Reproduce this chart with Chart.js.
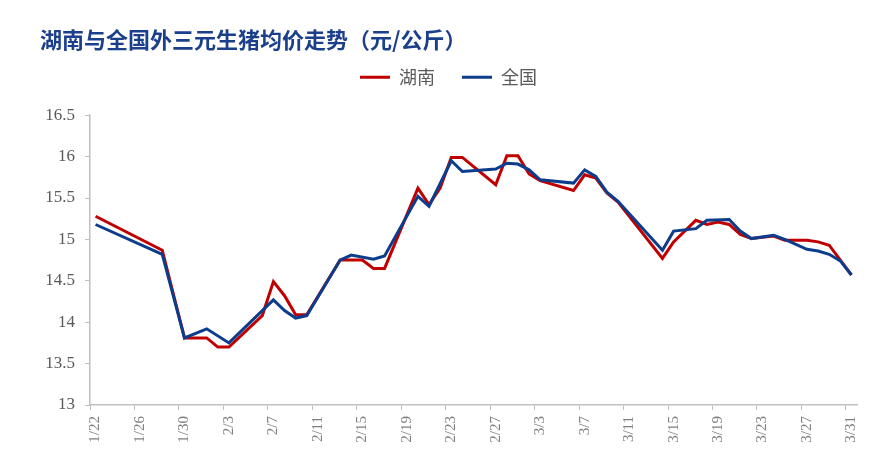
<!DOCTYPE html>
<html>
<head>
<meta charset="utf-8">
<script src="https://cdn.jsdelivr.net/npm/chart.js@4"></script>
<style>
  body { margin: 0; background: #fff; }
  #wrap { width: 886px; height: 472px; }
</style>
</head>
<body>
<div id="wrap"><canvas id="priceChart"></canvas></div>
<script>
// readings where the lines change direction (null = no visible point)
const dates = ['1/22','1/28','1/30','2/1','2/2','2/3','2/6','2/7','2/8','2/9','2/10',
  '2/13','2/14','2/15','2/16','2/17','2/20','2/21','2/22','2/23','2/24','2/27','2/28',
  '3/1','3/2','3/3','3/6','3/7','3/8','3/9','3/10','3/14','3/15','3/17','3/18','3/19',
  '3/20','3/21','3/22','3/24','3/25','3/27','3/28','3/29','3/30','3/31'];
const hunan = [15.28,14.87,13.81,13.81,13.70,13.70,14.08,14.49,14.32,14.09,14.09,
  14.75,null,14.75,14.65,14.65,15.62,15.42,15.62,15.99,15.99,15.66,16.01,
  16.01,15.79,15.71,15.59,15.78,15.74,15.56,15.45,14.77,14.97,15.23,15.18,15.21,
  15.18,15.06,15.01,15.04,14.99,14.99,14.97,14.93,null,14.57];
const national = [15.18,14.82,13.81,13.92,null,13.75,null,14.27,14.14,14.05,14.08,
  14.75,14.81,null,14.76,14.80,15.52,15.40,null,15.95,15.82,15.85,15.92,
  15.91,15.84,15.72,15.68,15.84,15.76,15.57,15.46,14.87,15.10,15.13,15.23,null,
  15.24,15.10,15.01,15.05,15.00,14.88,14.86,14.82,14.74,14.57];

// date axis: every day from 1/22 to 3/31, label every 4th day
const dayLabels = [];
for (let d = new Date(2023, 0, 22); d <= new Date(2023, 2, 31); d.setDate(d.getDate() + 1)) {
  dayLabels.push((d.getMonth() + 1) + '/' + d.getDate());
}

function points(vals) {
  return dates.map((x, i) => ({ x: x, y: vals[i] })).filter(p => p.y !== null);
}

const axisGray = '#bfbfbf';
const textGray = '#595959';

new Chart(document.getElementById('priceChart'), {
  type: 'line',
  data: {
    labels: dayLabels,
    datasets: [{
      label: '湖南',
      data: points(hunan),
      borderColor: '#c00000',
      backgroundColor: '#c00000',
      borderWidth: 3,
      pointRadius: 0,
      order: 1
    }, {
      label: '全国',
      data: points(national),
      borderColor: '#0b3d8c',
      backgroundColor: '#0b3d8c',
      borderWidth: 3,
      pointRadius: 0,
      order: 0
    }]
  },
  options: {
    responsive: true,
    maintainAspectRatio: false,
    animation: false,
    layout: { padding: { left: 40, right: 29, top: 2, bottom: 17 } },
    plugins: {
      title: {
        display: true,
        text: '湖南与全国外三元生猪均价走势（元/公斤）',
        align: 'start',
        color: '#1b3f8b',
        font: { family: 'Noto Sans CJK SC', size: 22, weight: 'bold', lineHeight: 1.1 },
        padding: { top: 26, bottom: -11 }
      },
      // empty spacer between legend and plot
      subtitle: {
        display: true,
        text: '',
        weight: 500,
        font: { size: 1, lineHeight: 1 },
        padding: { top: 0, bottom: 18 }
      },
      legend: {
        position: 'top',
        labels: {
          boxWidth: 30,
          boxHeight: 3,
          padding: 27,
          color: textGray,
          font: { family: 'Noto Sans CJK SC', size: 18 },
          sort: (a, b) => a.datasetIndex - b.datasetIndex,
          generateLabels: chart => Chart.defaults.plugins.legend.labels.generateLabels(chart)
            .map(l => ({ ...l, lineWidth: 0 }))
        }
      },
      tooltip: { enabled: false }
    },
    scales: {
      x: {
        type: 'category',
        offset: true,
        grid: {
          offset: true,
          drawOnChartArea: false,
          tickLength: 5,
          color: ctx => (ctx.index % 4 === 0 ? axisGray : 'rgba(0,0,0,0)')
        },
        border: { color: axisGray, width: 1.5 },
        ticks: {
          autoSkip: false,
          minRotation: 90,
          maxRotation: 90,
          padding: 6,
          color: '#7f7f7f',
          font: { family: 'Liberation Serif', size: 15 },
          callback: (v, i) => (i % 4 === 0 ? dayLabels[i] : '')
        },
        afterFit: s => { s.height = 50; }
      },
      y: {
        min: 13,
        max: 16.5,
        ticks: {
          stepSize: 0.5,
          padding: 10,
          color: textGray,
          font: { family: 'Liberation Serif', size: 17 },
          callback: v => String(Math.round(v * 10) / 10)
        },
        grid: { drawOnChartArea: false, tickLength: 5, color: axisGray },
        border: { color: axisGray, width: 1.5 },
        afterFit: s => { s.width = 50; }
      }
    }
  }
});
</script>
</body>
</html>
